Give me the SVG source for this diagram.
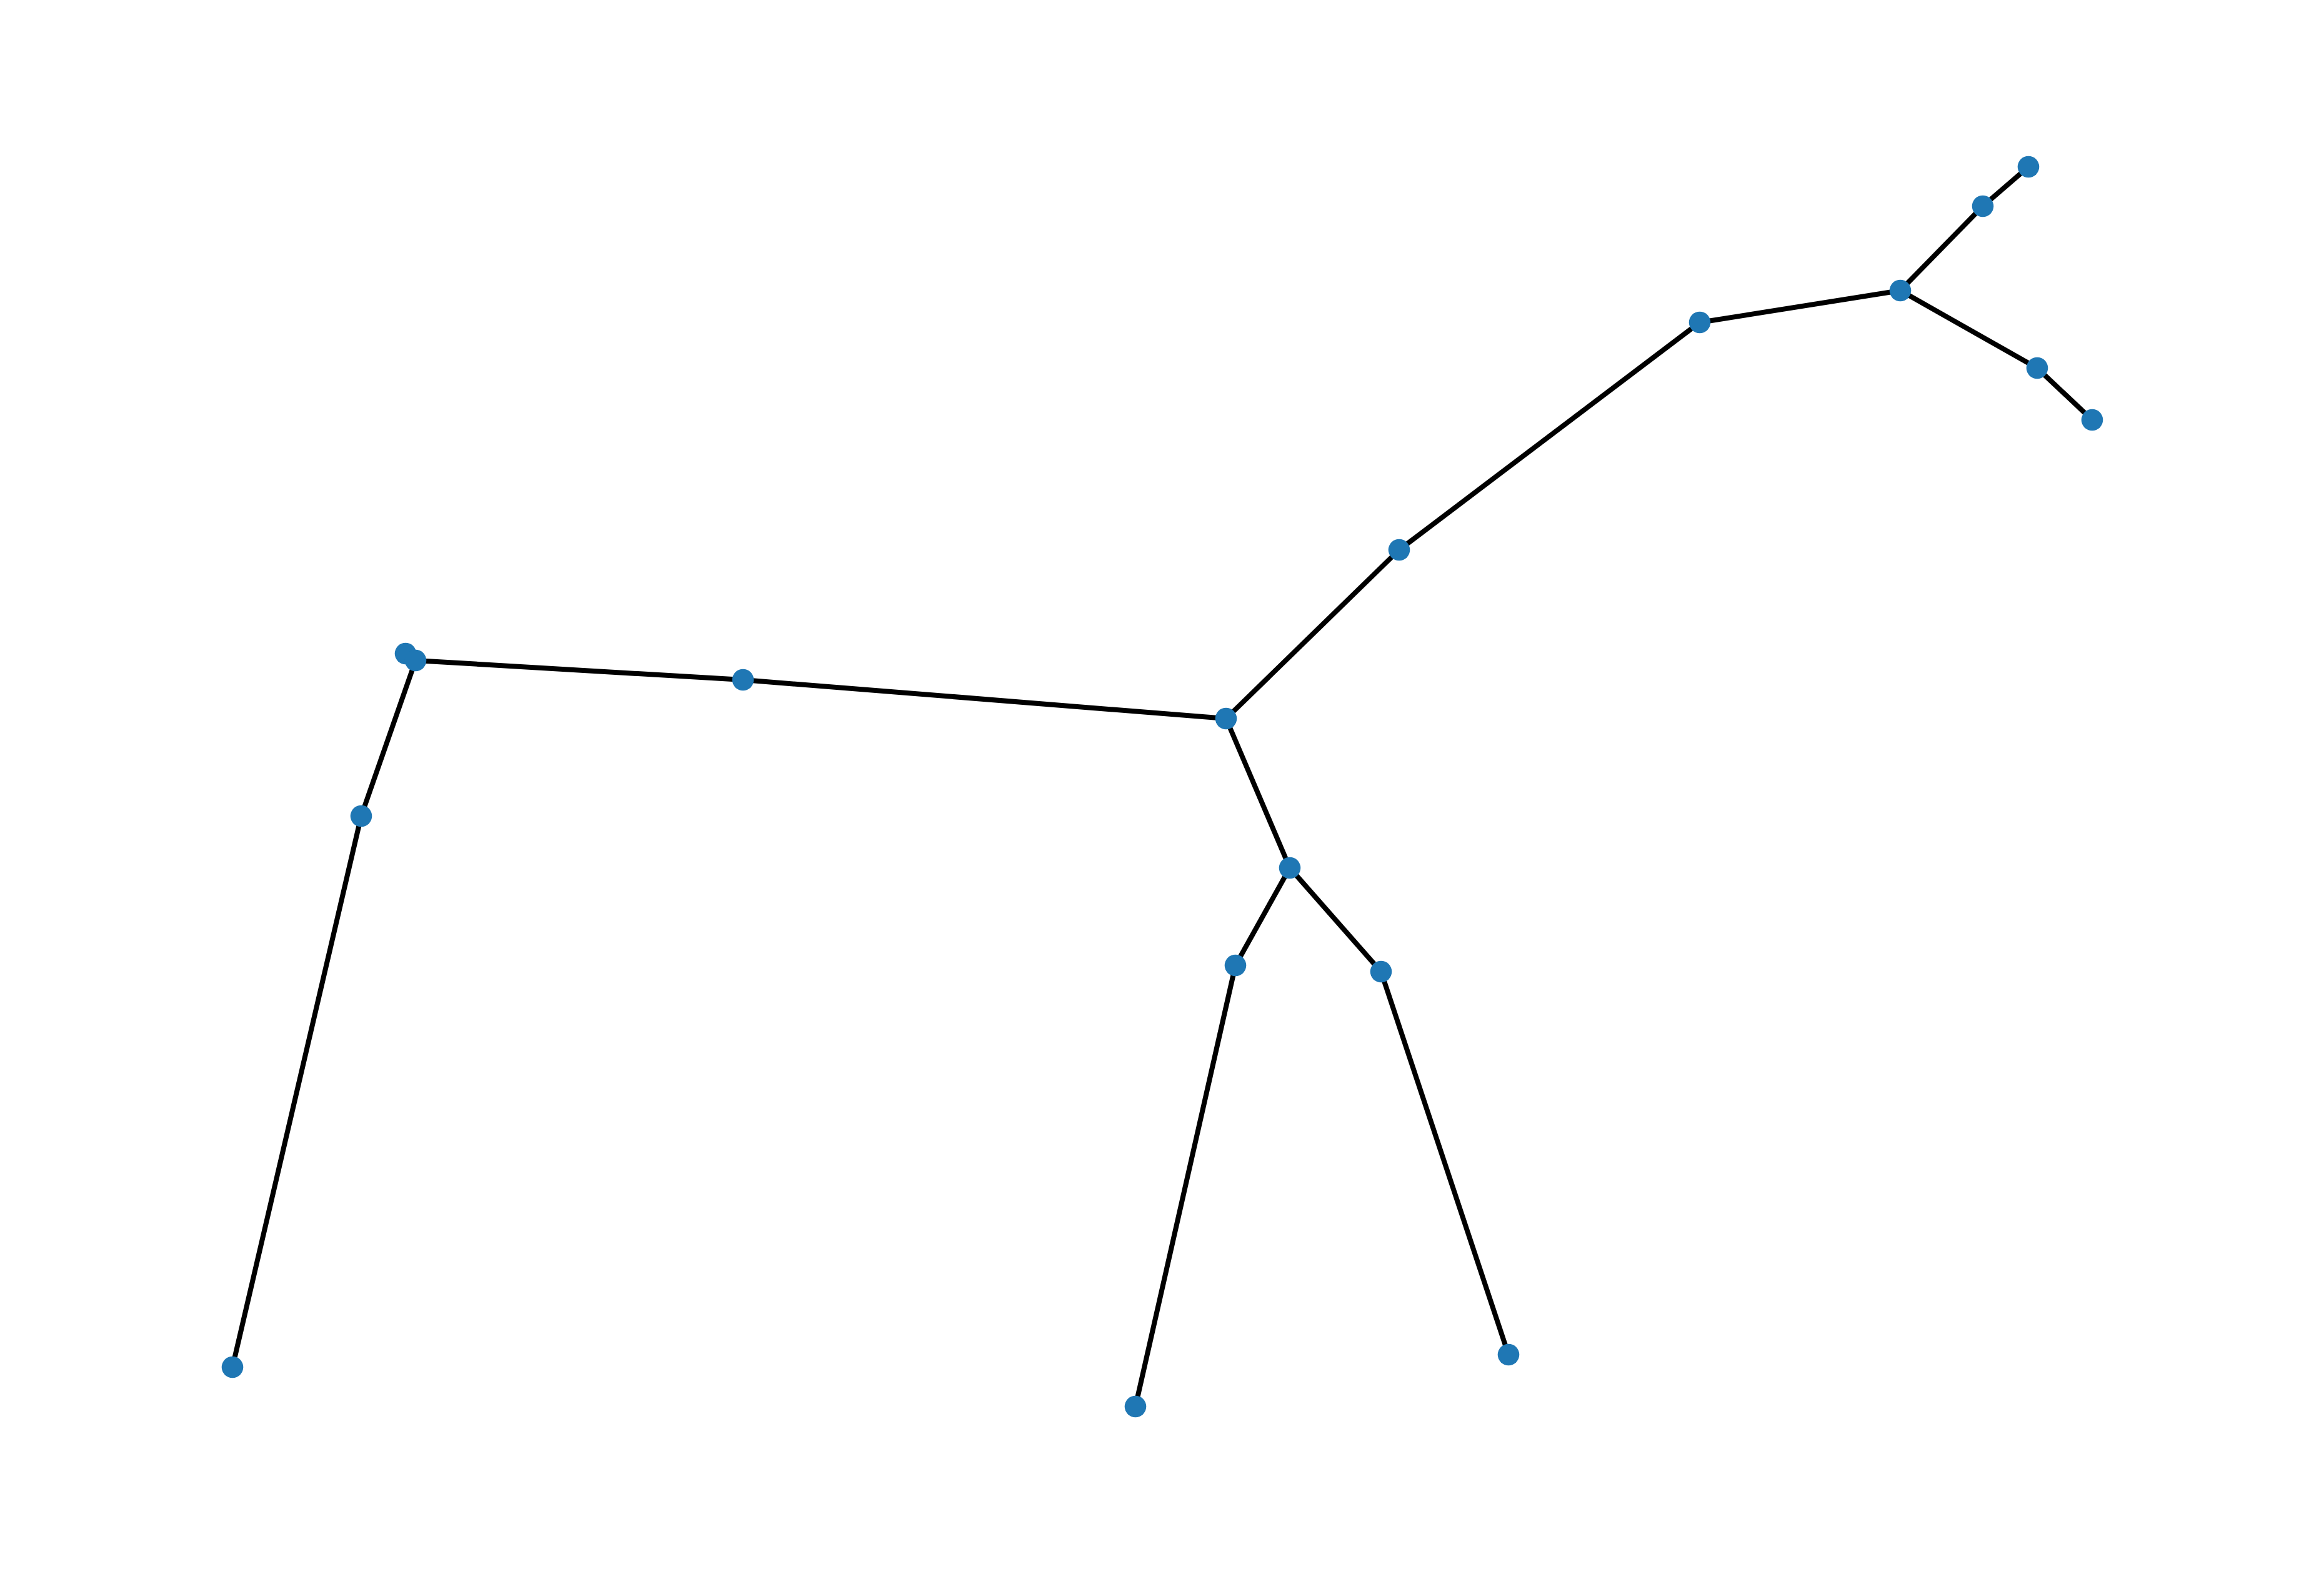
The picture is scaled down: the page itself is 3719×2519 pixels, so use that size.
<svg xmlns="http://www.w3.org/2000/svg" width="3719" height="2519" viewBox="0 0 3719 2519">
<style>
.e{stroke:#000;stroke-width:8;fill:none;stroke-linecap:butt}
.n{fill:#1f77b4}
</style>
<rect width="3719" height="2519" fill="#fff"/>
<g id="edges">
<line class="e" x1="3246" y1="267" x2="3173" y2="330"/>
<line class="e" x1="3173" y1="330" x2="3041" y2="465"/>
<line class="e" x1="3041" y1="465" x2="2720" y2="516"/>
<line class="e" x1="3041" y1="465" x2="3260" y2="589"/>
<line class="e" x1="3260" y1="589" x2="3348" y2="672"/>
<line class="e" x1="2720" y1="516" x2="2239" y2="880"/>
<line class="e" x1="2239" y1="880" x2="1962" y2="1150"/>
<line class="e" x1="1962" y1="1150" x2="1189" y2="1088"/>
<line class="e" x1="1189" y1="1088" x2="665" y2="1057"/>
<line class="e" x1="665" y1="1057" x2="578" y2="1306"/>
<line class="e" x1="578" y1="1306" x2="372" y2="2188"/>
<line class="e" x1="1962" y1="1150" x2="2064" y2="1389"/>
<line class="e" x1="2064" y1="1389" x2="1977" y2="1545"/>
<line class="e" x1="2064" y1="1389" x2="2210" y2="1555"/>
<line class="e" x1="1977" y1="1545" x2="1817" y2="2251"/>
<line class="e" x1="2210" y1="1555" x2="2414" y2="2168"/>
</g>
<g id="n1"><circle class="n" cx="3246" cy="267" r="17.3"/></g>
<g id="n2"><circle class="n" cx="3173" cy="330" r="17.3"/></g>
<g id="n3"><circle class="n" cx="3041" cy="465" r="17.3"/></g>
<g id="n4"><circle class="n" cx="2720" cy="516" r="17.3"/></g>
<g id="n5"><circle class="n" cx="3260" cy="589" r="17.3"/></g>
<g id="n6"><circle class="n" cx="3348" cy="672" r="17.3"/></g>
<g id="n7"><circle class="n" cx="2239" cy="880" r="17.3"/></g>
<g id="n8"><circle class="n" cx="1962" cy="1150" r="17.3"/></g>
<g id="n9"><circle class="n" cx="1189" cy="1088" r="17.3"/></g>
<g id="n10"><circle class="n" cx="649" cy="1046" r="17.3"/></g>
<g id="n11"><circle class="n" cx="665" cy="1057" r="17.3"/></g>
<g id="n12"><circle class="n" cx="578" cy="1306" r="17.3"/></g>
<g id="n13"><circle class="n" cx="372" cy="2188" r="17.3"/></g>
<g id="n14"><circle class="n" cx="2064" cy="1389" r="17.3"/></g>
<g id="n15"><circle class="n" cx="1977" cy="1545" r="17.3"/></g>
<g id="n16"><circle class="n" cx="2210" cy="1555" r="17.3"/></g>
<g id="n17"><circle class="n" cx="1817" cy="2251" r="17.3"/></g>
<g id="n18"><circle class="n" cx="2414" cy="2168" r="17.3"/></g>
</svg>
